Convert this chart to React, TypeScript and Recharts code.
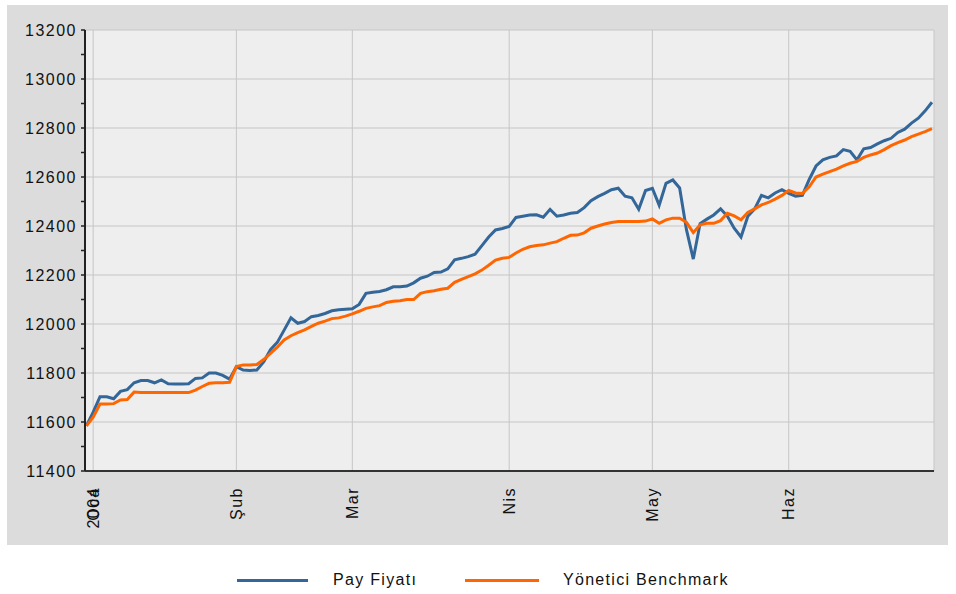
import { LineChart, Line, XAxis, YAxis, CartesianGrid, ReferenceLine } from 'recharts'

// islem gunu sirasi (0..124), Ocak - Haziran 2004
const monthTicks = [1, 22, 39, 62, 83, 103]
const monthLabels = ['Oca', 'Şub', 'Mar', 'Nis', 'May', 'Haz']
const yearLabel = '2004'

const yMajorTicks = [11400, 11600, 11800, 12000, 12200, 12400, 12600, 12800, 13000, 13200]
const yMinorTicks = [
  11400, 11500, 11600, 11700, 11800, 11900, 12000, 12100, 12200, 12300,
  12400, 12500, 12600, 12700, 12800, 12900, 13000, 13100, 13200,
]

const payFiyati = [
  11584, 11640, 11703, 11703, 11695, 11725, 11732, 11760, 11769, 11769,
  11760, 11772, 11756, 11755, 11755, 11756, 11778, 11780, 11800, 11800,
  11790, 11775, 11826, 11812, 11810, 11812, 11845, 11895, 11925, 11975,
  12025, 12003, 12010, 12030, 12035, 12043, 12054, 12058, 12060, 12062,
  12080, 12125, 12130, 12133, 12140, 12152, 12152, 12155, 12168, 12187,
  12195, 12210, 12212, 12225, 12262, 12268, 12275, 12285, 12320, 12355,
  12384, 12390, 12398, 12435, 12440, 12445, 12446, 12436, 12468, 12440,
  12445, 12452, 12455, 12475, 12503, 12520, 12533, 12548, 12554, 12522,
  12515, 12468, 12545, 12554, 12485, 12574, 12588, 12555, 12385, 12265,
  12410, 12428, 12445, 12470, 12440, 12391, 12355, 12440, 12470, 12525,
  12515, 12535, 12548, 12533, 12522, 12525, 12590, 12645, 12670, 12680,
  12686, 12712, 12705, 12670, 12715, 12720, 12735, 12748, 12758, 12782,
  12795, 12820, 12840, 12870, 12905,
]

const benchmark = [
  11584, 11620, 11673, 11673, 11675, 11690, 11692, 11722, 11720, 11720,
  11720, 11720, 11720, 11720, 11720, 11720, 11730, 11745, 11758, 11760,
  11760, 11762, 11826, 11833, 11833, 11835, 11855, 11880, 11905, 11935,
  11952, 11965, 11976, 11990, 12003, 12012, 12022, 12025, 12032, 12041,
  12052, 12064, 12070, 12075, 12088, 12093, 12095, 12100, 12100, 12125,
  12132, 12136, 12142, 12146, 12170, 12182, 12193, 12205, 12220, 12240,
  12261, 12268, 12272, 12290, 12305, 12315, 12320, 12323, 12330, 12336,
  12350, 12362, 12363, 12372, 12391, 12400, 12408, 12414, 12418, 12418,
  12418, 12418, 12420, 12429, 12411, 12425, 12432, 12432, 12415, 12373,
  12405, 12411, 12411, 12422, 12452, 12441, 12425, 12455, 12470, 12486,
  12496, 12510, 12525, 12545, 12535, 12533, 12560, 12600, 12612, 12622,
  12632, 12645, 12656, 12664, 12680, 12690, 12698, 12712, 12728, 12740,
  12751, 12765, 12775, 12785, 12797,
]

const BLUE = '#336699'
const ORANGE = '#ff6600'
const FONT = 'Arial, "Liberation Sans", sans-serif'

const data = payFiyati.map((v, i) => ({ day: i, pay: v, bench: benchmark[i] }))

const YTick = (props: any) => {
  const { x, y, payload } = props
  if (payload.value % 200 !== 0) return <g />
  return (
    <text x={x} y={y} textAnchor="end" dominantBaseline="central" fontSize={16} fill="#111" fontFamily={FONT} letterSpacing={1.5}>
      {payload.value}
    </text>
  )
}

const MonthTick = (props: any) => {
  const { x, y, payload } = props
  const idx = monthTicks.indexOf(payload.value)
  return (
    <g transform={`translate(${x},${y})`}>
      <text transform="rotate(-90)" x={-8} y={0} textAnchor="end" dominantBaseline="central" fontSize={16} fill="#111" fontFamily={FONT} letterSpacing={1.5}>
        {monthLabels[idx]}
      </text>
      {idx === 0 && (
        <text transform="rotate(-90)" x={-8} y={0} textAnchor="end" dominantBaseline="central" fontSize={16} fill="#111" fontFamily={FONT} letterSpacing={1.5}>
          {yearLabel}
        </text>
      )}
    </g>
  )
}

export default function App() {
  return (
    <div style={{ position: 'absolute', left: 0, top: 0, width: 956, height: 594, background: '#fff', fontFamily: FONT }}>
      {/* gri panel */}
      <div style={{ position: 'absolute', left: 7, top: 5, width: 941, height: 540, background: '#dcdcdc' }} />

      <div style={{ position: 'absolute', left: 0, top: 0 }}>
        <LineChart width={956} height={594} data={data} margin={{ top: 30, right: 22, left: 15, bottom: 73 }}>
          <CartesianGrid horizontal={false} vertical={true} fill="#eeeeee" stroke="#c6c6c6" strokeWidth={1} />
          {yMajorTicks.map((v) => (
            <ReferenceLine key={v} y={v} stroke="#c6c6c6" strokeWidth={1} />
          ))}
          <XAxis
            type="number"
            dataKey="day"
            domain={[-0.2, 124.3]}
            ticks={monthTicks}
            interval={0}
            tickLine={false}
            tickSize={6}
            tickMargin={2}
            axisLine={{ stroke: '#333', strokeWidth: 2 }}
            tick={<MonthTick />}
            height={50}
            allowDataOverflow
          />
          <YAxis
            type="number"
            domain={[11400, 13200]}
            ticks={yMinorTicks}
            interval={0}
            width={70}
            tickSize={4}
            tickMargin={4}
            tickLine={{ stroke: '#222', strokeWidth: 1.5 }}
            axisLine={{ stroke: '#222', strokeWidth: 2 }}
            tick={<YTick />}
            allowDataOverflow
          />
          <Line type="linear" dataKey="pay" stroke={BLUE} strokeWidth={3} dot={false} isAnimationActive={false} />
          <Line type="linear" dataKey="bench" stroke={ORANGE} strokeWidth={3} dot={false} isAnimationActive={false} />
        </LineChart>
      </div>

      {/* Lejant */}
      <div style={{ position: 'absolute', left: 237, top: 579, width: 71, height: 3, background: BLUE }} />
      <div style={{ position: 'absolute', left: 333, top: 571, fontSize: 16, letterSpacing: 1.3, color: '#111', lineHeight: '18px' }}>
        Pay Fiyatı
      </div>
      <div style={{ position: 'absolute', left: 465, top: 579, width: 74, height: 3, background: ORANGE }} />
      <div style={{ position: 'absolute', left: 563, top: 571, fontSize: 16, letterSpacing: 1.3, color: '#111', lineHeight: '18px' }}>
        Yönetici Benchmark
      </div>
    </div>
  )
}
